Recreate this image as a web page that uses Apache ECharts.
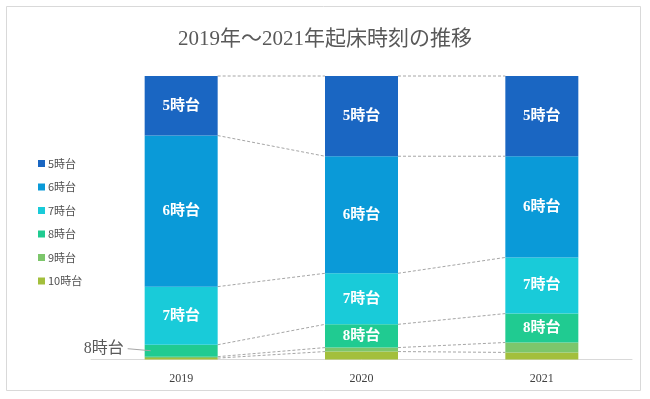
<!DOCTYPE html>
<html>
<head>
<meta charset="utf-8">
<script src="https://cdn.jsdelivr.net/npm/echarts@6/dist/echarts.min.js"></script>
<style>
  html, body { margin: 0; padding: 0; background: #fff; }
  #chart { width: 650px; height: 399px; }
</style>
</head>
<body>
<div id="chart"></div>
<script>
// 年ごとの起床時刻の割合(%)
var years = ['2019', '2020', '2021'];
var names = ['5時台', '6時台', '7時台', '8時台', '9時台', '10時台'];
var h5  = [21.0, 28.3, 28.3];
var h6  = [53.3, 41.3, 35.7];
var h7  = [20.5, 18.0, 19.8];
var h8  = [4.2, 8.2, 10.2];
var h9  = [0.5, 1.4, 3.5];
var h10 = [0.5, 2.8, 2.5];

var colors = ['#1a66c2', '#0a9ad8', '#19cbd9', '#20cb91', '#7cc66b', '#a3bf3c'];
var serif = "'Liberation Serif', 'Noto Sans CJK JP', serif";
var BAR_W = 73;

// 下から積み上げる順番
var stackOrder = [h10, h9, h8, h7, h6, h5];
var stackNames = ['10時台', '9時台', '8時台', '7時台', '6時台', '5時台'];
var stackColors = [colors[5], colors[4], colors[3], colors[2], colors[1], colors[0]];
// ラベルを出す系列（2019の8時台は外側に出す）
var labelShow = {
  '5時台': [true, true, true],
  '6時台': [true, true, true],
  '7時台': [true, true, true],
  '8時台': [false, true, true]
};

function cum(i) {
  var out = [], s = 0;
  for (var k = 0; k < stackOrder.length; k++) {
    s += stackOrder[k][i];
    out.push(s);
  }
  return out;
}

var chart = echarts.init(document.getElementById('chart'));

var series = stackOrder.map(function (arr, k) {
  var nm = stackNames[k];
  return {
    name: nm,
    type: 'bar',
    stack: 'total',
    barWidth: BAR_W,
    z: 3,
    itemStyle: { color: stackColors[k] },
    data: arr.map(function (v, i) {
      var show = labelShow[nm] ? labelShow[nm][i] : false;
      return {
        value: v,
        label: {
          show: show,
          position: 'inside',
          formatter: '{a}',
          color: '#fff',
          fontSize: 15,
          fontWeight: 'bold',
          fontFamily: serif
        }
      };
    })
  };
});

// 棒と棒をつなぐ点線
series.push({
  type: 'custom',
  silent: true,
  z: 1,
  data: [[0], [1]],
  renderItem: function (params, api) {
    var i = api.value(0);
    var a = cum(i), b = cum(i + 1);
    var children = [];
    for (var k = 0; k < a.length; k++) {
      var p1 = api.coord([i, a[k]]);
      var p2 = api.coord([i + 1, b[k]]);
      children.push({
        type: 'line',
        shape: { x1: p1[0] + BAR_W / 2, y1: p1[1], x2: p2[0] - BAR_W / 2, y2: p2[1] },
        style: { stroke: '#a6a6a6', lineWidth: 1, lineDash: [3, 2] }
      });
    }
    return { type: 'group', children: children };
  }
});

var frame = {
  type: 'rect',
  shape: { x: 6.5, y: 6.5, width: 634, height: 384 },
  style: { fill: null, stroke: '#d9d9d9', lineWidth: 1 },
  silent: true
};

chart.setOption({
  backgroundColor: '#fff',
  animation: false,
  title: {
    text: '2019年～2021年起床時刻の推移',
    left: 'center',
    top: 24,
    textStyle: { color: '#595959', fontSize: 21, fontWeight: 'normal', fontFamily: serif }
  },
  legend: {
    data: names,
    orient: 'vertical',
    left: 33,
    top: 153,
    icon: 'rect',
    itemWidth: 7,
    itemHeight: 7,
    itemGap: 12.5,
    textStyle: { color: '#505050', fontSize: 11, fontFamily: "'Noto Sans CJK JP'", padding: [0, 0, 0, -2] }
  },
  grid: { left: 91, right: 18, top: 76, bottom: 39.5 },
  xAxis: {
    type: 'category',
    data: years,
    axisLine: { lineStyle: { color: '#d9d9d9' } },
    axisTick: { show: false },
    axisLabel: { color: '#404040', fontSize: 12, fontFamily: serif, margin: 13 }
  },
  yAxis: { type: 'value', min: 0, max: 100, show: false },
  series: series,
  graphic: [frame]
});

// 2019年の8時台は外側にラベル
var c19 = cum(0);
var mid = c19[1] + h8[0] / 2;
var pt = chart.convertToPixel({ xAxisIndex: 0, yAxisIndex: 0 }, [0, mid]);
var barLeft = pt[0] - BAR_W / 2;
chart.setOption({
  graphic: [frame, {
    type: 'line',
    z: 10,
    shape: { x1: barLeft - 17, y1: pt[1] - 2, x2: barLeft + 6, y2: pt[1] },
    style: { stroke: '#a6a6a6', lineWidth: 1 }
  }, {
    type: 'text',
    z: 10,
    x: barLeft - 21,
    y: pt[1] - 2,
    style: {
      text: '8時台',
      align: 'right',
      verticalAlign: 'middle',
      fill: '#595959',
      fontSize: 16,
      fontFamily: serif
    }
  }]
});
</script>
</body>
</html>
